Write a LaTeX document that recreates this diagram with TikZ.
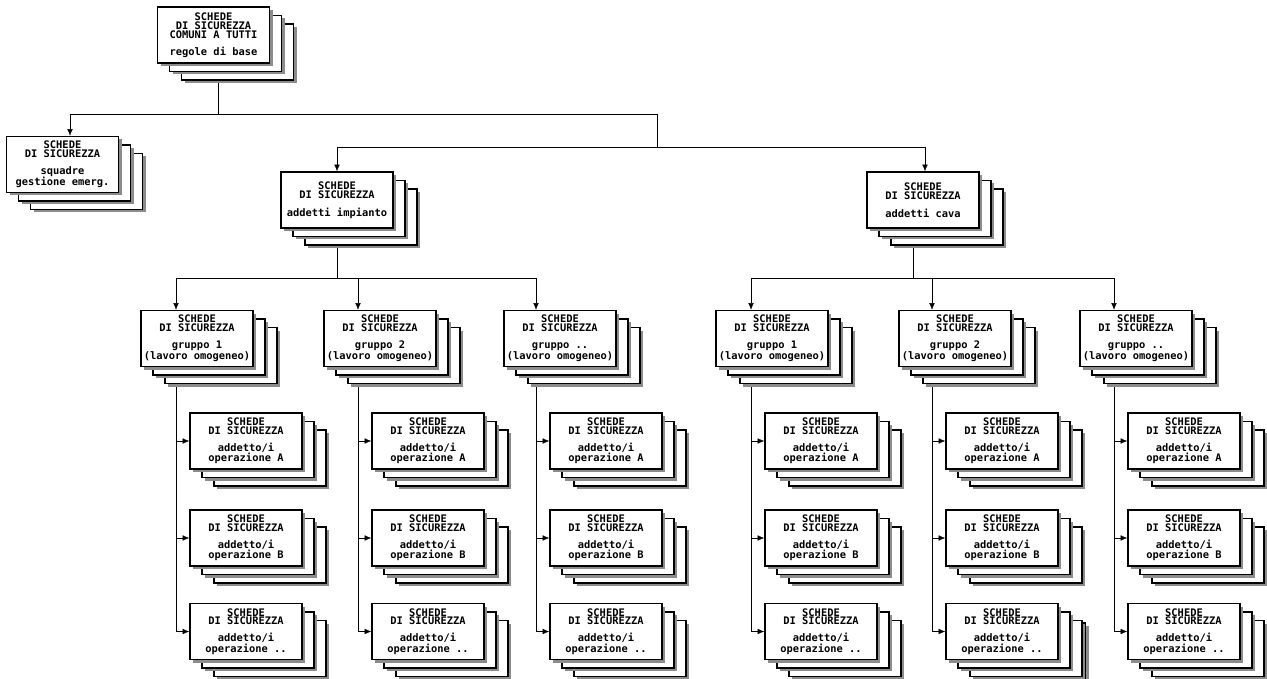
\documentclass[tikz,border=0pt]{standalone}
\usepackage{fontspec}
\setmonofont{DejaVu Sans Mono}
\usetikzlibrary{positioning,arrows.meta,backgrounds,shadows}

\tikzset{
scheda/.style={draw, line width=1.6pt, fill=white, minimum width=112pt, minimum height=56pt,
  inner sep=2pt, align=center, font=\ttfamily\bfseries\fontsize{10.4}{8.8}\selectfont,
  drop shadow={shadow xshift=3pt, shadow yshift=-3pt, fill=black!45, opacity=1}},
linea/.style={draw=black!60, line width=0.9pt}
}

% pila di schede: {nome}{posizione}{testo}
\newcommand{\pila}[3]{%
  \foreach \k in {2,1}
    \node[scheda, shift={(12*\k,8.5*\k)}] at #2 {};
  \node[scheda] (#1) at #2 {#3};
}
\newcommand{\sds}{SCHEDE\\DI SICUREZZA}

\begin{document}
\begin{tikzpicture}[x=1pt, y=-1pt, >={Latex[length=6.5pt,width=5.5pt,color=black]}]
\useasboundingbox (0,0) rectangle (1267,679);

\pila{radice}{(213.5,35)}{\sds\\COMUNI A TUTTI\\[8.2pt]regole di base}
\pila{squadre}{(62.5,164.5)}{\sds\\[8.2pt]squadre\\gestione emerg.}
\pila{impianto}{(337,200)}{\sds\\[9pt]addetti impianto}
\pila{cava}{(923,200)}{\sds\\[9pt]addetti cava}

% foglio in piu' sotto la pila addetto5-C
\node[scheda, shift={(27.6,19.5)}] (extra) at (1002,631.5) {};

\foreach \gr/\xg/\xf/\lab in {1/197/246/1, 2/380/428/2, 3/560/606/.., 4/772/821/1, 5/955/1002/2, 6/1136/1184/..} {
  \pila{gruppo\gr}{(\xg,338.5)}{\sds\\[8.2pt]gruppo \lab\\(lavoro omogeneo)}
  \pila{addetto\gr-A}{(\xf,441)}{\sds\\[8.2pt]addetto/i\\operazione A}
  \pila{addetto\gr-B}{(\xf,538)}{\sds\\[8.2pt]addetto/i\\operazione B}
  \pila{addetto\gr-C}{(\xf,631.5)}{\sds\\[8.2pt]addetto/i\\operazione ..}
  \coordinate (asse\gr) at (\xf-70,278);
}

\coordinate (nodo1) at (657,114);
\coordinate (nodo2) at (657,147);

\begin{scope}[on background layer, linea]
\draw ([xshift=4.5pt]radice.south) -- ([xshift=4.5pt]radice.south |- nodo1);
\draw[->] (nodo1) -| ([xshift=7.5pt]squadre.north);
\draw (nodo1) -- (nodo2);
\draw[->] (nodo2) -| (impianto.north);
\draw[->] (nodo2) -| ([xshift=2pt]cava.north);
\draw (impianto.south) -- (impianto.south |- asse1);
\draw ([xshift=-10pt]cava.south) -- ([xshift=-10pt]cava.south |- asse4);
\draw (asse1) -- (asse3);
\draw (asse4) -- (asse6);
\foreach \gr in {1,...,6} {
  \draw[->] (asse\gr) -- (asse\gr |- gruppo\gr.north);
  \draw (asse\gr |- gruppo\gr.south) -- (asse\gr |- addetto\gr-C.west);
  \foreach \op in {A,B,C}
    \draw[->] (asse\gr |- addetto\gr-\op.west) -- (addetto\gr-\op.west);
}
\end{scope}
\end{tikzpicture}
\end{document}
